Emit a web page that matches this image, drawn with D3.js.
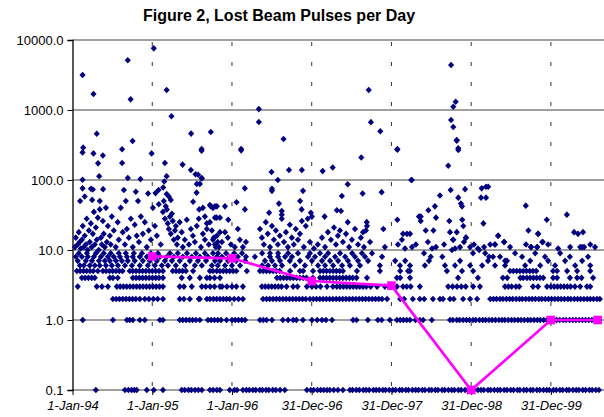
<!DOCTYPE html>
<html>
<head>
<meta charset="utf-8">
<script src="https://cdn.jsdelivr.net/npm/d3@7"></script>
<style>
  body { margin: 0; background: #fff; }
  svg { display: block; font-family: Arial, "Liberation Sans", sans-serif; }
</style>
</head>
<body>
<div id="chart"></div>
<script>
// days counted from 1-Jan-94; zero counts are plotted at 0.1
const zeroDays = [107, 240, 256, 271, 283, 294, 340, 372, 414, 500, 514, 531, 544, 561, 576, 592, 629, 644, 661, 675,
  720, 741, 753, 780, 796, 809, 826, 839, 857, 869, 886, 899, 917, 931, 950, 972, 1073, 1091, 1104, 1121, 1136, 1150, 1165,
  1178, 1196, 1215, 1238, 1270, 1282, 1299, 1313, 1331, 1344, 1358, 1377, 1390, 1404, 1421, 1433, 1450, 1466, 1479, 1497,
  1509, 1526, 1538, 1556, 1571, 1584, 1601, 1613, 1632, 1644, 1661, 1673, 1692, 1704, 1721, 1736, 1748, 1766, 1779, 1797,
  1809, 1826, 1838, 1856, 1870, 1883, 1902, 1914, 1931, 1946, 1958, 1976, 1989, 2006, 2019, 2037, 2048, 2066, 2079, 2096,
  2108, 2126, 2139, 2156, 2171, 2183, 2201, 2214, 2231, 2244, 2262, 2273, 2291, 2306, 2318, 2336, 2349, 2366, 2379, 2396, 2410];
const oneDays = [47, 185, 249, 262, 276, 308, 331, 400, 414, 491, 505, 520, 535, 550, 565, 583, 620, 635, 650, 665, 680, 705,
  730, 745, 760, 775, 790, 858, 873, 888, 913, 963, 987, 1010, 1025, 1055, 1096, 1120, 1142, 1160, 1188, 1284, 1300, 1352,
  1398, 1415, 1453, 1485, 1500, 1515, 1530, 1545, 1570, 1590, 1605, 1645, 1728, 1741, 1759, 1772, 1788, 1803, 1817, 1834,
  1846, 1863, 1878, 1891, 1907, 1921, 1936, 1952, 1966, 1979, 1995, 2010, 2024, 2039, 2053, 2068, 2084, 2097, 2113, 2128,
  2141, 2157, 2172, 2186, 2201, 2216, 2230, 2246, 2259, 2275, 2290, 2304, 2319, 2334, 2348, 2363, 2378, 2392, 2408];
const twoDays = [185, 200, 215, 230, 245, 260, 275, 290, 308, 331, 350, 370, 390, 414, 491, 510, 537, 578, 583, 615, 629,
  645, 660, 675, 690, 705, 720, 740, 760, 780, 872, 888, 903, 918, 933, 948, 963, 978, 993, 1008, 1023, 1038, 1053, 1068,
  1087, 1102, 1117, 1132, 1147, 1162, 1177, 1192, 1207, 1222, 1237, 1252, 1267, 1282, 1297, 1312, 1327, 1342, 1357, 1372,
  1387, 1402, 1417, 1440, 1500, 1518, 1558, 1590, 1610, 1650, 1682, 1696, 1728, 1745, 1788, 1820, 1852, 1912, 1927, 1941,
  1957, 1970, 1986, 2001, 2015, 2031, 2046, 2059, 2075, 2090, 2104, 2119, 2135, 2148, 2164, 2179, 2193, 2208, 2223, 2237,
  2252, 2268, 2281, 2297, 2312, 2326, 2341, 2356, 2370, 2385, 2401, 2414];
const threeDays = [24, 111, 135, 162, 203, 218, 233, 248, 263, 278, 293, 308, 323, 338, 353, 368, 383, 398, 414, 491, 510,
  546, 592, 610, 630, 650, 675, 685, 707, 730, 750, 780, 867, 882, 897, 912, 927, 942, 957, 980, 1010, 1030, 1073, 1096,
  1115, 1135, 1165, 1192, 1210, 1225, 1240, 1255, 1270, 1285, 1300, 1315, 1330, 1345, 1365, 1394, 1430, 1450, 1485, 1513,
  1530, 1548, 1590, 1720, 1740, 1760, 1780, 1800, 1834, 1865, 1980, 1995, 2010, 2030, 2045, 2108, 2131, 2172, 2190, 2205,
  2220, 2235, 2250, 2265, 2280, 2300, 2324, 2355, 2370];
const fourDays = [43, 58, 73, 88, 102, 171, 185, 207, 276, 291, 306, 321, 336, 351, 366, 381, 396, 414, 500, 537, 583, 615,
  629, 650, 675, 936, 951, 966, 981, 996, 1011, 1026, 1041, 1056, 1071, 1100, 1133, 1148, 1163, 1178, 1193, 1208, 1223,
  1238, 1253, 1268, 1283, 1300, 1348, 1485, 1500, 1545, 1765, 1856, 1970, 1990, 2050, 2063, 2080, 2095, 2110, 2125, 2140,
  2155, 2200, 2218, 2277, 2310, 2330, 2383];
const fiveDays = [20, 35, 50, 65, 80, 95, 116, 139, 154, 169, 184, 199, 214, 229, 262, 276, 291, 306, 321, 336, 351, 366,
  381, 396, 414, 459, 474, 489, 504, 519, 552, 629, 643, 660, 675, 690, 705, 720, 735, 750, 798, 858, 873, 888, 903, 918,
  933, 948, 996, 1041, 1056, 1101, 1133, 1148, 1163, 1178, 1193, 1208, 1223, 1238, 1302, 1407, 1500, 1536, 1545, 1714,
  1783, 1834, 2003, 2018, 2033, 2048, 2063, 2078, 2093, 2108, 2123, 2200, 2218, 2264, 2310, 2370];
const sixDays = [34, 52, 79, 102, 125, 153, 180, 208, 240, 272, 308, 345, 377, 409, 437, 473, 515, 560, 592, 638, 665,
  698, 730, 767, 868, 895, 927, 959, 1018, 1064, 1124, 1156, 1193, 1234, 1270, 1316, 1407, 1499, 1545, 1613, 1705, 1751,
  1820, 1875, 1934, 1980, 2072, 2141, 2209, 2301, 2370];
const sevenDays = [24, 61, 89, 121, 148, 171, 199, 226, 253, 285, 322, 354, 386, 423, 455, 491, 537, 574, 611, 652, 675,
  712, 749, 790, 881, 913, 950, 995, 1041, 1096, 1142, 1179, 1216, 1261, 1307, 1353, 1477, 1523, 1632, 1774, 1902, 1980,
  1989, 2095, 2177, 2255, 2333];
const eightDays = [15, 43, 70, 98, 130, 162, 189, 217, 249, 276, 308, 340, 368, 400, 432, 464, 505, 546, 583, 620, 661,
  684, 720, 757, 794, 835, 904, 941, 973, 1005, 1078, 1110, 1156, 1202, 1248, 1293, 1339, 1417, 1640, 1693, 1907, 1925,
  1957, 2058, 2163, 2277, 2360];
const nineDays = [29, 66, 107, 143, 175, 212, 244, 281, 318, 359, 391, 446, 482, 524, 565, 606, 643, 666, 703, 740, 776,
  868, 904, 941, 987, 1032, 1087, 1133, 1170, 1225, 1280, 1325, 1371, 1609, 1833, 1889, 2026, 2118, 2232];

// scattered days above ten: [day, pulses]
const scatterDays = [
  [11, 11], [15, 15], [24, 12], [29, 18], [33, 13], [38, 10.5], [43, 14], [47, 22], [52, 11], [56, 16], [61, 12], [65, 28],
  [70, 10], [75, 19], [79, 13], [84, 24], [88, 11], [93, 17], [98, 35], [102, 12], [107, 21], [111, 14], [116, 29], [120, 10],
  [125, 38], [130, 15], [134, 12], [139, 26], [143, 17], [148, 11], [153, 40], [157, 13], [162, 22], [171, 16], [175, 12],
  [180, 30], [189, 19], [198, 11], [207, 25], [212, 14], [221, 40], [230, 18], [240, 12], [249, 20], [258, 15], [267, 28],
  [276, 11], [285, 23], [294, 16], [304, 13], [313, 30], [322, 17], [331, 25], [340, 11], [349, 19], [359, 14], [368, 40],
  [377, 22], [386, 16], [395, 45], [404, 12], [414, 35], [418, 50], [423, 28], [427, 42], [432, 38], [436, 24], [441, 20],
  [446, 30], [450, 17], [455, 33], [459, 26], [464, 14], [469, 19], [473, 22], [478, 12], [482, 15], [491, 25], [500, 18],
  [505, 11], [514, 14], [523, 27], [533, 12], [542, 20], [551, 16], [560, 13], [569, 22], [578, 28], [588, 11], [597, 17],
  [606, 14], [615, 24], [624, 12], [638, 19], [647, 15], [656, 11], [665, 13], [675, 18],
  [597, 40], [606, 30], [615, 20], [629, 25], [643, 14], [652, 12], [661, 16], [670, 11], [684, 13], [698, 18], [711, 15],
  [725, 12], [743, 11], [757, 20], [766, 14], [780, 11], [794, 13], [858, 20], [867, 15], [876, 12], [885, 25], [894, 17],
  [904, 11], [913, 22], [922, 14], [931, 19], [940, 12], [949, 16], [958, 28], [968, 13], [977, 18], [986, 11], [995, 23],
  [1004, 15], [1013, 12], [1022, 20], [1032, 14], [1041, 17], [1050, 26], [1059, 11], [1068, 22], [1077, 28], [1087, 13],
  [1096, 30], [1105, 10.5], [1123, 12], [1142, 15], [1156, 11], [1169, 18], [1183, 14], [1197, 21], [1206, 12], [1215, 16],
  [1224, 19], [1238, 13], [1252, 17], [1266, 11], [1279, 14], [1293, 20], [1307, 12], [1320, 15], [1334, 11], [1348, 22],
  [1362, 13], [1430, 11], [1490, 12], [1508, 14], [1522, 10.5],
  [1545, 17], [1554, 11], [1572, 12], [1627, 13], [1646, 10.5], [1664, 11], [1701, 12], [1728, 18], [1742, 14], [1751, 10.5],
  [1774, 11], [1792, 13], [1801, 15], [1820, 11], [1838, 12], [1856, 10.5], [1884, 11], [1912, 12], [1934, 12], [1948, 16],
  [1975, 13], [2003, 11], [2076, 12], [2099, 11], [2127, 11], [2131, 17], [2150, 13], [2177, 12], [2223, 10.5], [2278, 11],
  [2324, 11], [2333, 11], [2342, 11], [2370, 12], [2392, 11],
  [46, 3160], [96, 1690], [253, 5130], [266, 1420], [372, 7600], [431, 1930], [453, 813], [111, 458], [543, 460], [633, 485],
  [49, 290], [227, 275], [275, 360], [591, 277], [46, 248], [96, 240], [117, 173], [139, 224], [227, 175], [362, 240],
  [423, 175], [504, 166], [542, 139], [563, 121], [575, 119], [592, 105], [46, 101], [122, 113], [253, 107], [311, 103],
  [431, 113], [420, 95], [46, 76], [84, 75], [93, 73], [56, 58], [35, 50], [90, 52], [125, 50], [140, 74], [235, 72],
  [244, 50], [290, 68], [300, 50], [346, 64], [380, 65], [394, 72], [415, 78], [431, 63], [441, 58], [450, 52], [552, 49],
  [568, 66], [569, 88], [583, 88], [580, 38], [633, 42], [652, 42], [660, 29],
  [853, 1030], [853, 675], [966, 385], [772, 277], [1356, 1930], [1366, 670], [1409, 496], [1487, 277], [591, 262],
  [772, 265], [591, 107], [789, 76], [751, 48], [789, 38], [911, 130], [940, 100], [991, 139], [1050, 139], [1145, 134],
  [1191, 151], [1322, 210], [1487, 270], [1551, 100], [1260, 87], [1328, 64], [1415, 67], [1055, 70], [913, 75], [913, 70],
  [1042, 50], [945, 46], [900, 34], [958, 36], [958, 32], [1049, 38], [1233, 59], [1210, 37], [1229, 36], [1154, 30],
  [1260, 25], [1091, 34], [643, 40], [661, 42], [698, 42], [713, 27], [629, 44], [652, 29], [675, 29], [1487, 27],
  [1586, 30], [1423, 20], [1347, 25], [1330, 18], [1343, 19], [1513, 17], [1531, 17],
  [1733, 4390], [1754, 1315], [1743, 1115], [1733, 720], [1743, 572], [1759, 373], [1766, 284], [1759, 365], [1766, 268],
  [1720, 160], [1553, 100], [1797, 74], [1731, 72], [1682, 60], [1766, 56], [1778, 46], [1783, 42], [1659, 42], [1629, 37],
  [1594, 30], [1594, 26], [1664, 29], [1725, 26], [1784, 27], [1789, 22], [1617, 19], [1652, 19], [1759, 18], [1743, 14],
  [1801, 15], [1873, 76], [1893, 80], [1903, 80], [1870, 56], [1893, 56], [1881, 24], [2075, 43], [2263, 32], [2171, 27],
  [2087, 19], [2132, 17], [1949, 16], [1977, 13], [1934, 12], [2153, 13], [2099, 11], [2127, 11], [2296, 18], [2337, 18],
  [2314, 17], [1737, 10], [1862, 10]
];

// yearly averages (pink)
const avgDays = [365, 730, 1095, 1460, 1825, 2190, 2404];
const avgValues = [8.1, 7.6, 3.6, 3.1, 0.1, 1.0, 1.0];

const yTicks = [0.1, 1, 10, 100, 1000, 10000];
const xTickDays = [0, 365, 730, 1095, 1460, 1825, 2190];

const w = 604, h = 417;
const plotLeft = 72.5, plotTop = 40, plotBottom = 390;
const day0 = Date.UTC(1994, 0, 1);
const toDate = d => new Date(day0 + d * 864e5);

const bands = [
  [zeroDays, 0.1], [oneDays, 1], [twoDays, 2], [threeDays, 3], [fourDays, 4], [fiveDays, 5],
  [sixDays, 6], [sevenDays, 7], [eightDays, 8], [nineDays, 9]
];
let points = [];
bands.forEach(([days, v]) => days.forEach(d => points.push([d, v])));
points = points.concat(scatterDays);

const x = d3.scaleUtc()
  .domain([toDate(0), toDate(2433)])
  .range([plotLeft, 604]);
const y = d3.scaleLog()
  .domain([0.1, 10000])
  .range([plotBottom, plotTop]);

const svg = d3.select("#chart").append("svg")
  .attr("width", w)
  .attr("height", h);

svg.append("text")
  .attr("x", 279)
  .attr("y", 21)
  .attr("text-anchor", "middle")
  .attr("font-size", 16)
  .attr("font-weight", "bold")
  .text("Figure 2, Lost Beam Pulses per Day");

// horizontal gridlines
svg.append("g")
  .selectAll("line")
  .data(yTicks)
  .enter()
  .append("line")
  .attr("x1", plotLeft)
  .attr("x2", w)
  .attr("y1", d => y(d))
  .attr("y2", d => y(d))
  .attr("stroke", "#808080")
  .attr("stroke-width", 1.3);

// dashed verticals
svg.append("g")
  .selectAll("line")
  .data(xTickDays.slice(1))
  .enter()
  .append("line")
  .attr("x1", d => x(toDate(d)))
  .attr("x2", d => x(toDate(d)))
  .attr("y1", plotTop + 2)
  .attr("y2", plotBottom)
  .attr("stroke", "#333")
  .attr("stroke-width", 1)
  .attr("stroke-dasharray", "4,16");

const yAxis = d3.axisLeft(y)
  .tickValues(yTicks)
  .tickFormat(d3.format(".1f"))
  .tickSize(5)
  .tickPadding(4);
const yg = svg.append("g")
  .attr("transform", `translate(${plotLeft},0)`)
  .call(yAxis);
yg.select(".domain").attr("stroke", "#000").attr("stroke-width", 1.3);
yg.selectAll("text").attr("font-size", 13).attr("fill", "#000").attr("font-family", "Arial, 'Liberation Sans', sans-serif");

const xAxis = d3.axisBottom(x)
  .tickValues(xTickDays.map(toDate))
  .tickFormat(d3.utcFormat("%-d-%b-%y"))
  .tickSize(5)
  .tickPadding(6);
const xg = svg.append("g")
  .attr("transform", `translate(0,${plotBottom})`)
  .call(xAxis);
xg.select(".domain").remove();
xg.selectAll("text").attr("font-size", 13).attr("font-style", "italic").attr("fill", "#000")
  .attr("font-family", "Arial, 'Liberation Sans', sans-serif");

// daily points
svg.append("g")
  .selectAll("path")
  .data(points)
  .enter()
  .append("path")
  .attr("d", "M0,-3.3L3.1,0L0,3.3L-3.1,0Z")
  .attr("transform", d => `translate(${x(toDate(d[0]))},${y(d[1])})`)
  .attr("fill", "#000080");

// averages
const avg = avgDays.map((d, i) => [d, avgValues[i]]);
svg.append("path")
  .datum(avg)
  .attr("fill", "none")
  .attr("stroke", "#ff00ff")
  .attr("stroke-width", 2.6)
  .attr("d", d3.line().x(d => x(toDate(d[0]))).y(d => y(d[1])));
svg.append("g")
  .selectAll("rect")
  .data(avg)
  .enter()
  .append("rect")
  .attr("x", d => x(toDate(d[0])) - 4.3)
  .attr("y", d => y(d[1]) - 4.3)
  .attr("width", 8.6)
  .attr("height", 8.6)
  .attr("fill", "#ff00ff");
</script>
</body>
</html>
